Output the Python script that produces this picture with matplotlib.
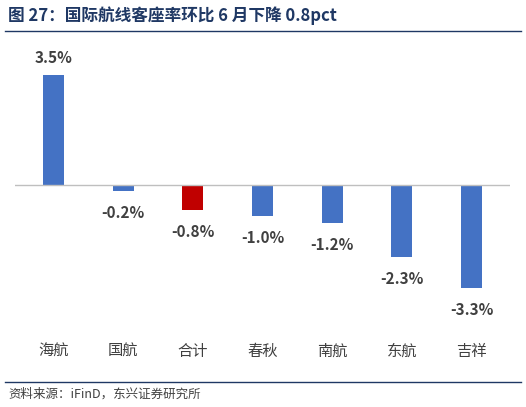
import numpy as np
import matplotlib.pyplot as plt

plt.rcParams['font.family'] = ['Noto Sans CJK SC', 'DejaVu Sans']

categories = ['海航', '国航', '合计', '春秋', '南航', '东航', '吉祥']
values = [3.5, -0.2, -0.8, -1.0, -1.2, -2.3, -3.3]
colors = ['#4472C4', '#4472C4', '#C00000', '#4472C4', '#4472C4', '#4472C4', '#4472C4']

fig = plt.figure(figsize=(5.26, 4.07), dpi=100)
W, H = 526, 407
ax = fig.add_axes([15 / W, 1 - 326 / H, 495 / W, 276 / H])

x = np.arange(len(categories))
ax.bar(x, values, width=0.3, color=colors)
ax.axhline(0, color='#BFBFBF', lw=1)
ax.set_ylim(-4.5, 4.3)
ax.set_xlim(-0.55, len(categories) - 0.45)
for s in ax.spines.values():
    s.set_visible(False)
ax.set_yticks([])
ax.set_xticks(x)
ax.set_xticklabels(categories, fontsize=11, color='#404040')
ax.tick_params(axis='x', length=0, pad=12)

for xi, v in zip(x, values):
    off = 0.3 if v > 0 else -0.45
    ax.text(xi, v + off, f'{v:.1f}%', ha='center', va='bottom' if v > 0 else 'top',
            fontsize=11, fontweight='bold', color='#404040')

fig.text(8 / W, 1 - 16 / H, '图 27：国际航线客座率环比 6 月下降 0.8pct', fontsize=12,
         fontweight='bold', color='#1F3864', va='center')
fig.add_artist(plt.Line2D([5 / W, 521 / W], [1 - 31 / H] * 2, color='#1F3864', lw=1))
fig.add_artist(plt.Line2D([5 / W, 521 / W], [1 - 382 / H] * 2, color='#1F3864', lw=1))
fig.text(8 / W, 1 - 394 / H, '资料来源：iFinD，东兴证券研究所', fontsize=9,
         style='italic', color='#404040', va='center')

fig.savefig('out.png', dpi=100)
